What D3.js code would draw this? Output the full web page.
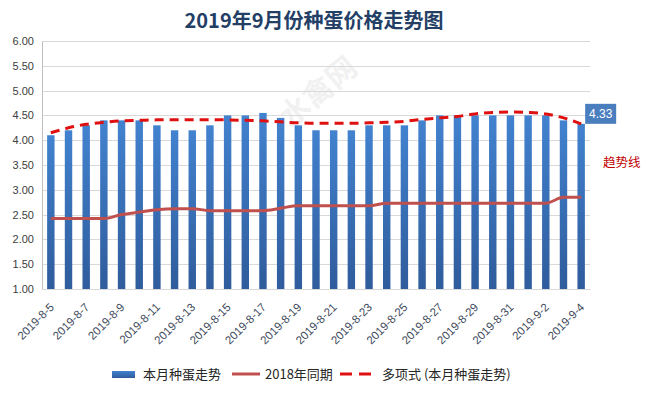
<!DOCTYPE html>
<html>
<head>
<meta charset="utf-8">
<script src="https://cdn.jsdelivr.net/npm/d3@7"></script>
<style>
  body { margin: 0; background: #fff; }
  svg { display: block; font-family: "Liberation Sans", "Noto Sans CJK SC", sans-serif; }
</style>
</head>
<body>
<div id="root"></div>
<script>
const width = 645;
const height = 393;

// 2019-8-5 .. 2019-9-4, one per day
const dates = [
  "2019-8-5", "2019-8-6", "2019-8-7", "2019-8-8", "2019-8-9", "2019-8-10",
  "2019-8-11", "2019-8-12", "2019-8-13", "2019-8-14", "2019-8-15", "2019-8-16",
  "2019-8-17", "2019-8-18", "2019-8-19", "2019-8-20", "2019-8-21", "2019-8-22",
  "2019-8-23", "2019-8-24", "2019-8-25", "2019-8-26", "2019-8-27", "2019-8-28",
  "2019-8-29", "2019-8-30", "2019-8-31", "2019-9-1", "2019-9-2", "2019-9-3",
  "2019-9-4"
];
const thisMonth = [
  4.1, 4.2, 4.3, 4.4, 4.4, 4.4, 4.3, 4.2, 4.2, 4.3, 4.5, 4.5, 4.55, 4.45, 4.3,
  4.2, 4.2, 4.2, 4.3, 4.3, 4.3, 4.4, 4.5, 4.5, 4.5, 4.5, 4.5, 4.5, 4.5, 4.4, 4.33
];
const lastYear = [
  2.42, 2.42, 2.42, 2.42, 2.5, 2.55, 2.6, 2.62, 2.62, 2.58, 2.58, 2.58, 2.58,
  2.63, 2.68, 2.68, 2.68, 2.68, 2.68, 2.73, 2.73, 2.73, 2.73, 2.73, 2.73, 2.73,
  2.73, 2.73, 2.73, 2.85, 2.85
];
const trend = [
  4.15, 4.25, 4.32, 4.36, 4.39, 4.40, 4.41, 4.41, 4.41, 4.41, 4.41, 4.40, 4.39,
  4.37, 4.35, 4.34, 4.34, 4.34, 4.35, 4.36, 4.38, 4.42, 4.45, 4.48, 4.53, 4.56,
  4.57, 4.56, 4.53, 4.45, 4.33
];
const yTicks = [1, 1.5, 2, 2.5, 3, 3.5, 4, 4.5, 5, 5.5, 6];
const seriesNames = ["本月种蛋走势", "2018年同期", "多项式 (本月种蛋走势)"];

const margin = { left: 42, right: 55, top: 41, bottom: 104 };
const plotW = width - margin.left - margin.right;
const plotH = height - margin.top - margin.bottom;

const svg = d3.select("#root").append("svg")
  .attr("width", width)
  .attr("height", height);

const defs = svg.append("defs");
const grad = defs.append("linearGradient")
  .attr("id", "barGrad")
  .attr("x1", 0).attr("y1", 0).attr("x2", 0).attr("y2", 1);
grad.append("stop").attr("offset", "0%").attr("stop-color", "#4282cf");
grad.append("stop").attr("offset", "100%").attr("stop-color", "#2f5c9c");

// watermark
svg.append("text")
  .attr("transform", "translate(325,100) rotate(-40)")
  .attr("text-anchor", "middle")
  .style("font-family", "Noto Sans CJK SC")
  .style("font-size", "30px")
  .style("font-weight", "bold")
  .style("fill", "#000")
  .style("opacity", 0.05)
  .text("水禽网");

svg.append("text")
  .attr("x", 314)
  .attr("y", 28)
  .attr("text-anchor", "middle")
  .style("font-family", "Noto Sans CJK SC")
  .style("font-size", "20px")
  .style("font-weight", "bold")
  .style("fill", "#243f66")
  .text("2019年9月份种蛋价格走势图");

const g = svg.append("g")
  .attr("transform", `translate(${margin.left},${margin.top})`);

const x = d3.scaleBand().domain(dates).range([0, plotW]).paddingInner(0.58).paddingOuter(0.29);
const y = d3.scaleLinear().domain([1, 6]).range([plotH, 0]);
const cx = (d) => x(d) + x.bandwidth() / 2;

// gridlines
g.append("g")
  .selectAll("line")
  .data(yTicks)
  .enter()
  .append("line")
  .attr("x1", 0)
  .attr("x2", plotW)
  .attr("y1", (d) => Math.round(y(d)) + 0.5)
  .attr("y2", (d) => Math.round(y(d)) + 0.5)
  .style("stroke", "#d9d9d9");

const yAxis = g.append("g")
  .call(d3.axisLeft(y).tickValues(yTicks).tickFormat(d3.format(".2f")).tickSize(0).tickPadding(8));
yAxis.select(".domain").style("stroke", "#bfbfbf");
yAxis.selectAll("text").style("font-size", "11px").style("fill", "#404040");

const xAxis = g.append("g")
  .attr("transform", `translate(0,${plotH})`)
  .call(d3.axisBottom(x).tickValues(dates.filter((d, i) => i % 2 === 0)).tickSize(0));
xAxis.select(".domain").style("stroke", "#d9d9d9");
xAxis.selectAll("text")
  .attr("text-anchor", "end")
  .attr("x", 0)
  .attr("y", 0)
  .attr("dy", "0.35em")
  .attr("transform", "translate(1,16) rotate(-45)")
  .style("font-size", "11.5px")
  .style("fill", "#3e4a5c");

g.selectAll("rect.bar")
  .data(thisMonth)
  .enter()
  .append("rect")
  .attr("class", "bar")
  .attr("x", (d, i) => x(dates[i]))
  .attr("y", (d) => y(d))
  .attr("width", x.bandwidth())
  .attr("height", (d) => y(1) - y(d))
  .style("fill", "url(#barGrad)");

const smooth = d3.line()
  .x((d, i) => cx(dates[i]))
  .y((d) => y(d))
  .curve(d3.curveMonotoneX);

g.append("path")
  .attr("d", smooth(lastYear))
  .style("fill", "none")
  .style("stroke", "#c0504d")
  .style("stroke-width", 3);

g.append("path")
  .attr("d", smooth(trend))
  .style("fill", "none")
  .style("stroke", "#e01010")
  .style("stroke-width", 3)
  .style("stroke-dasharray", "9,6");

// data label for the last bar
const last = thisMonth.length - 1;
const lbl = svg.append("g")
  .attr("transform", `translate(${margin.left + cx(dates[last]) + 4},${margin.top + y(thisMonth[last]) - 20})`);
lbl.append("rect")
  .attr("width", 31)
  .attr("height", 20)
  .style("fill", "#4a7ebf");
lbl.append("text")
  .attr("x", 15.5)
  .attr("y", 14.5)
  .attr("text-anchor", "middle")
  .style("font-size", "12px")
  .style("fill", "#fff")
  .text(thisMonth[last].toFixed(2));

svg.append("text")
  .attr("x", 603)
  .attr("y", 167)
  .style("font-family", "Noto Sans CJK SC")
  .style("font-size", "12.5px")
  .style("fill", "#c00000")
  .text("趋势线");

// legend
const legend = svg.append("g").attr("transform", "translate(0,374)");
legend.append("rect")
  .attr("x", 112).attr("y", -3).attr("width", 23).attr("height", 7)
  .style("fill", "url(#barGrad)");
legend.append("line")
  .attr("x1", 232).attr("x2", 260).attr("y1", 0).attr("y2", 0)
  .style("stroke", "#c0504d").style("stroke-width", 3);
legend.append("line")
  .attr("x1", 340).attr("x2", 371).attr("y1", 0).attr("y2", 0)
  .style("stroke", "#e01010").style("stroke-width", 3)
  .style("stroke-dasharray", "12,7");
legend.selectAll("text")
  .data(seriesNames)
  .enter()
  .append("text")
  .attr("x", (d, i) => [143, 265, 382][i])
  .attr("y", 5)
  .style("font-family", "Noto Sans CJK SC")
  .style("font-size", "13px")
  .style("fill", "#262626")
  .text((d) => d);
</script>
</body>
</html>
